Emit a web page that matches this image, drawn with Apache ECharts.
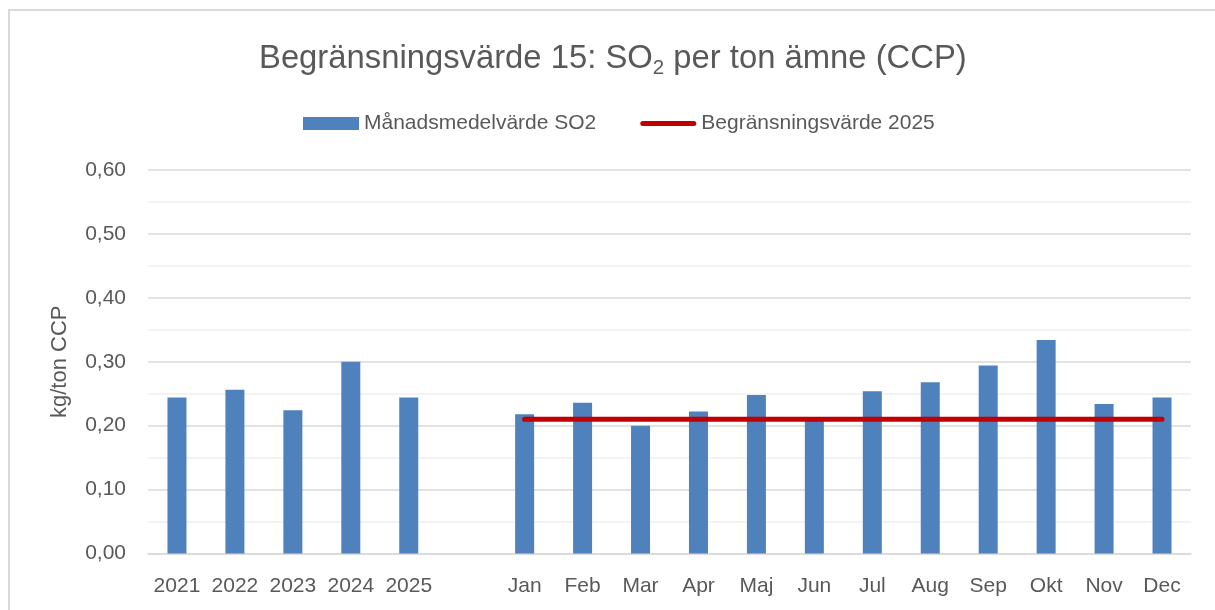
<!DOCTYPE html>
<html>
<head>
<meta charset="utf-8">
<script src="https://cdn.jsdelivr.net/npm/echarts@6/dist/echarts.min.js"></script>
<style>
html,body{margin:0;padding:0;background:#fff;}
#chart{width:1215px;height:610px;}
</style>
</head>
<body>
<div id="chart"></div>
<script>
const categories = ['2021','2022','2023','2024','2025','','Jan','Feb','Mar','Apr','Maj','Jun','Jul','Aug','Sep','Okt','Nov','Dec'];
const barValues = [0.244,0.256,0.224,0.30,0.244,null,0.218,0.236,0.20,0.222,0.248,0.21,0.254,0.268,0.294,0.334,0.234,0.244];
const limitValues = [null,null,null,null,null,null,0.21,0.21,0.21,0.21,0.21,0.21,0.21,0.21,0.21,0.21,0.21,0.21];
const yTicks = [0,0.1,0.2,0.3,0.4,0.5,0.6];
const barName = 'Månadsmedelvärde SO2';
const lineName = 'Begränsningsvärde 2025';

const FONT = 'Liberation Sans';
const TXT = '#595959';
const chart = echarts.init(document.getElementById('chart'), null, {renderer:'canvas'});
chart.setOption({
  animation:false,
  backgroundColor:'#ffffff',
  textStyle:{fontFamily:FONT},
  graphic:[{
    type:'rect', silent:true, z:-10,
    shape:{x:9,y:10,width:1240,height:640},
    style:{fill:'none',stroke:'#d9d9d9',lineWidth:2}
  }],
  title:{
    text:'{a|Begränsningsvärde 15: SO}{s|2}{a| per ton ämne (CCP)}',
    left:259, top:39, padding:0,
    textStyle:{
      fontWeight:'normal',
      rich:{
        a:{fontFamily:FONT,fontSize:32.8,fontWeight:'normal',color:TXT,lineHeight:40},
        s:{fontFamily:FONT,fontSize:20.5,fontWeight:'normal',color:TXT,verticalAlign:'bottom'}
      }
    }
  },
  legend:{
    left:298, top:108,
    itemWidth:56, itemHeight:13, itemGap:44,
    textStyle:{fontFamily:FONT,fontSize:21,color:TXT},
    data:[
      {name:barName,icon:'rect'},
      {name:lineName,icon:'path://M2.5,0 L53.5,0 A2.5,2.5 0 0 1 53.5,5 L2.5,5 A2.5,2.5 0 0 1 2.5,0 Z',itemStyle:{color:'#c00000'}}
    ]
  },
  grid:{left:148,right:24,top:170,bottom:56.5,containLabel:false},
  xAxis:{
    type:'category', data:categories,
    axisLine:{lineStyle:{color:'#d9d9d9',width:1.5}},
    axisTick:{show:false},
    axisLabel:{color:TXT,fontFamily:FONT,fontSize:21,margin:22,interval:0}
  },
  yAxis:{
    type:'value', min:0, max:0.6, interval:0.1,
    name:'kg/ton CCP', nameLocation:'middle', nameGap:77,
    nameTextStyle:{color:TXT,fontFamily:FONT,fontSize:22},
    axisLine:{show:false}, axisTick:{show:false},
    axisLabel:{color:TXT,fontFamily:FONT,fontSize:21,margin:22,
      formatter:function(v){return v.toFixed(2).replace('.',',');}},
    splitLine:{lineStyle:{color:'#d9d9d9',width:1.5}},
    minorTick:{show:false,splitNumber:2},
    minorSplitLine:{show:true,lineStyle:{color:'#f0f0f0',width:1.5}}
  },
  series:[
    {
      name:barName, type:'bar', data:barValues, barWidth:19,
      itemStyle:{color:'#4f81bd'}
    },
    {
      name:lineName, type:'line', data:limitValues, symbol:'none',
      lineStyle:{color:'#c00000',width:5,cap:'round'},
      itemStyle:{color:'#c00000'},
      z:5
    }
  ]
});
</script>
</body>
</html>
